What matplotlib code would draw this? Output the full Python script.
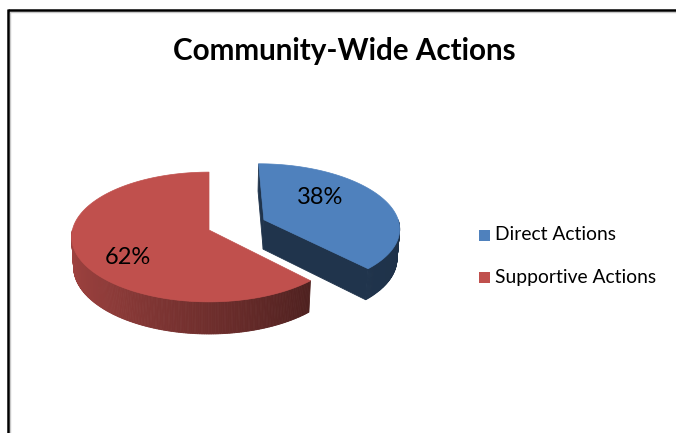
import numpy as np
import matplotlib
matplotlib.use('Agg')
import matplotlib.pyplot as plt
from matplotlib.patches import Polygon, Rectangle
from matplotlib.lines import Line2D
from matplotlib.colors import to_rgb

# ---------------- data ----------------
title = 'Community-Wide Actions'
categories = ['Direct Actions', 'Supportive Actions']
values = [38, 62]
explode = [0.44, 0.0]

# ---------------- style / layout ----------------
colors = ['#4f81bd', '#c0504d']
FONT = 'Lato'
W, H = 676, 433
CX, CY = 209, 230           # screen position of pie centre (px)
F, D = 1120.0, 8.2          # perspective focal length / distance
PHI = np.radians(28)        # elevation
DEPTH = 0.25                # pie thickness (in radius units)
label_xy = [(320, 197), (128, 257)]

fig = plt.figure(figsize=(W / 100, H / 100), dpi=100)
ax = fig.add_axes([0, 0, 1, 1])
ax.set_xlim(0, W)
ax.set_ylim(H, 0)
ax.axis('off')


def proj(X, Yb, Z):
    X = np.asarray(X, float); Yb = np.asarray(Yb, float); Z = np.asarray(Z, float)
    u = Yb * np.sin(PHI) + Z * np.cos(PHI)
    w = Yb * np.cos(PHI) - Z * np.sin(PHI)
    s = F / (D + w)
    return CX + X * s, CY - u * s


cam = np.array([0.0, -D * np.cos(PHI)])

shade_ang = [-180, -135, -90, -45, 0]
shade_fac = [0.86, 0.75, 0.58, 0.40, 0.38]

total = float(sum(values))
cum = np.concatenate([[0], np.cumsum(values)]) / total
slices = []
for i, v in enumerate(values):
    a0 = 90 - cum[i] * 360       # start (larger angle)
    a1 = 90 - cum[i + 1] * 360   # end (smaller angle)
    mid = np.radians((a0 + a1) / 2)
    off = explode[i] * np.array([np.cos(mid), np.sin(mid)])
    slices.append(dict(i=i, a0=a0, a1=a1, mid=mid, off=off))

# draw farther slices first
slices.sort(key=lambda s: -np.sin(s['mid']) - s['off'][1])

for sl in slices:
    base = np.array(to_rgb(colors[sl['i']]))
    a0, a1, off = sl['a0'], sl['a1'], sl['off']
    ox, oy = off

    # radial faces
    for ang, sign in ((a1, -1), (a0, +1)):
        t = np.radians(ang)
        nrm = np.array([np.cos(t + sign * np.pi / 2), np.sin(t + sign * np.pi / 2)])
        pt = off + 0.5 * np.array([np.cos(t), np.sin(t)])
        if np.dot(nrm, cam - pt) > 0.05:
            Xs = [ox, ox + np.cos(t), ox + np.cos(t), ox]
            Ys = [oy, oy + np.sin(t), oy + np.sin(t), oy]
            Zs = [0, 0, -DEPTH, -DEPTH]
            px, py = proj(Xs, Ys, Zs)
            c = base * 0.40
            ax.add_patch(Polygon(np.c_[px, py], closed=True, fc=c, ec=c, lw=0.6, zorder=2))

    # outer wall (front part)
    lo, hi = max(a1, -180), min(a0, 0)
    if hi > lo:
        n = max(int((hi - lo) * 1.5), 2)
        ts = np.linspace(lo, hi, n + 1)
        for k in range(n):
            ta, tb = np.radians(ts[k]), np.radians(ts[k + 1])
            Xs = [ox + np.cos(ta), ox + np.cos(tb), ox + np.cos(tb), ox + np.cos(ta)]
            Ys = [oy + np.sin(ta), oy + np.sin(tb), oy + np.sin(tb), oy + np.sin(ta)]
            Zs = [0, 0, -DEPTH, -DEPTH]
            px, py = proj(Xs, Ys, Zs)
            f = np.interp((ts[k] + ts[k + 1]) / 2, shade_ang, shade_fac)
            c = np.clip(base * f, 0, 1)
            ax.add_patch(Polygon(np.c_[px, py], closed=True, fc=c, ec=c, lw=0.6, zorder=2))

    # top face
    ts = np.radians(np.linspace(a1, a0, 200))
    Xs = np.concatenate([[ox], ox + np.cos(ts)])
    Ys = np.concatenate([[oy], oy + np.sin(ts)])
    px, py = proj(Xs, Ys, np.zeros_like(Xs))
    ax.add_patch(Polygon(np.c_[px, py], closed=True, fc=base, ec=base, lw=0.5, zorder=3))

# percentage labels
for i, v in enumerate(values):
    ax.text(label_xy[i][0], label_xy[i][1], f'{v / total * 100:.0f}%',
            ha='center', va='center', fontsize=17, family=FONT, color='black', zorder=5)

# title
ax.text(344, 51, title, ha='center', va='center', fontsize=21.3,
        fontweight='bold', family=FONT, color='black', zorder=5)

# legend
leg_y = [235, 277]
for i, name in enumerate(categories):
    ax.add_patch(Rectangle((479, leg_y[i] - 5.5), 11, 11, fc=colors[i], ec='none', zorder=5))
    ax.text(495, leg_y[i], name, ha='left', va='center', fontsize=13.9,
            family=FONT, color='black', zorder=5)

# chart frame (partial, as cropped)
ax.add_line(Line2D([7.5, W + 10], [9.5, 9.5], color='black', lw=1.8, zorder=6,
                   solid_capstyle='butt'))
ax.add_line(Line2D([7.5, 7.5], [8.6, H + 10], color='black', lw=1.8, zorder=6,
                   solid_capstyle='butt'))
ax.add_line(Line2D([9, W + 10], [11.5, 11.5], color='#c8c8c8', lw=1.0, zorder=5))
ax.add_line(Line2D([9.5, 9.5], [11.5, H + 10], color='#c8c8c8', lw=1.0, zorder=5))

fig.savefig('out.png', dpi=100, facecolor='white')
